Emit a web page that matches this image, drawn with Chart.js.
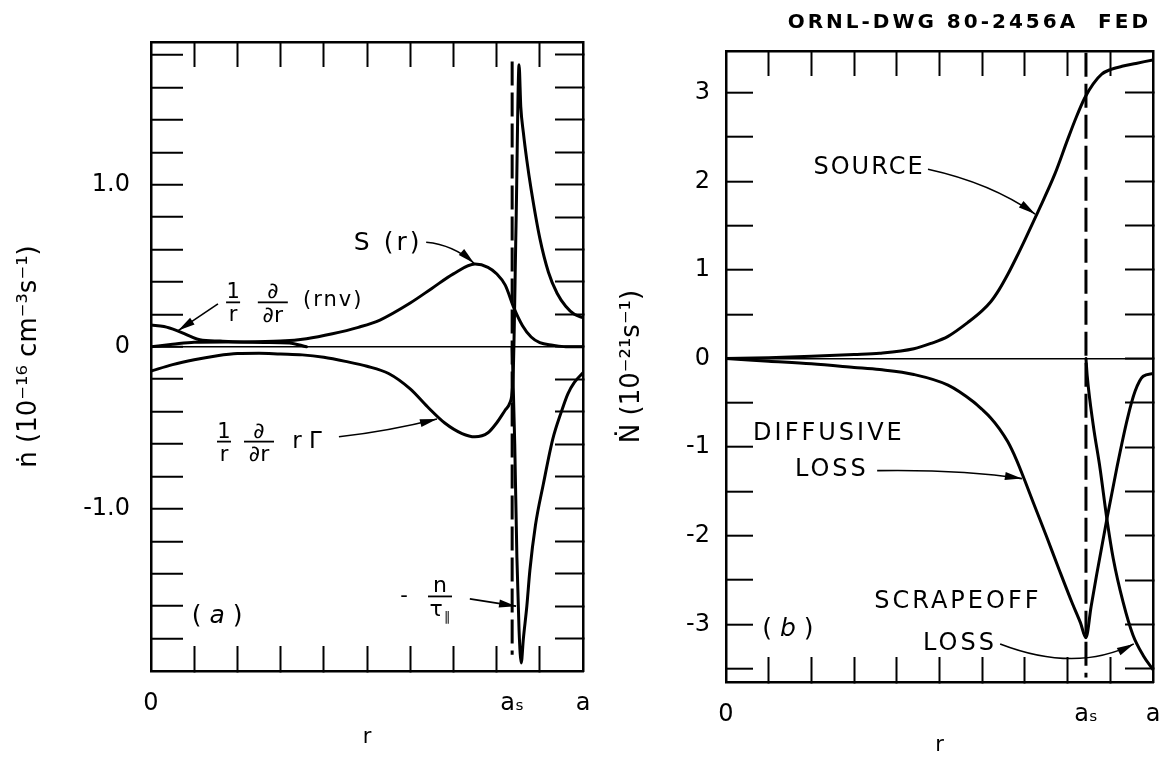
<!DOCTYPE html>
<html lang="en">
<head>
<meta charset="UTF-8" />
<title>ORNL-DWG 80-2456A FED</title>
<script src="https://cdn.jsdelivr.net/npm/chart.js"></script>
<style>
  body { margin: 0; background: #fff; }
  #wrap { position: relative; width: 1163px; height: 758px; overflow: hidden; background: #fff; }
  canvas { position: absolute; top: 0; }
  #chartA { left: 0; }
  #chartB { left: 600px; }
  #dwg { position: absolute; right: 12px; top: 9px; font: bold 20px "DejaVu Sans"; letter-spacing: 3px; color: #000; }
</style>
</head>
<body>
<div id="wrap">
  <canvas id="chartA" width="600" height="758"></canvas>
  <canvas id="chartB" width="563" height="758"></canvas>
  <div id="dwg">ORNL-DWG 80-2456A&nbsp; FED</div>
</div>

<script>
// r is in units of a; a_s is the separatrix
const aSa = 0.836;
const aSb = 0.843;

// tick positions and labels
const xTickVals = [0.1, 0.2, 0.3, 0.4, 0.5, 0.6, 0.7, 0.8, 0.9];
const xLabelText = ['0', 'aₛ', 'a'];
const yTicksA = [-1.8, -1.6, -1.4, -1.2, -1.0, -0.8, -0.6, -0.4, -0.2, 0, 0.2, 0.4, 0.6, 0.8, 1.0, 1.2, 1.4, 1.6, 1.8];
const yLabelValsA = [1.0, 0, -1.0];
const yLabelTextA = ['1.0', '0', '-1.0'];
const yTicksB = [-3.5, -3, -2.5, -2, -1.5, -1, -0.5, 0, 0.5, 1, 1.5, 2, 2.5, 3];
const yLabelValsB = [3, 2, 1, 0, -1, -2, -3];
const yLabelTextB = ['3', '2', '1', '0', '-1', '-2', '-3'];

// (a) S(r)
const srcAX = [0, 0.05, 0.1, 0.2, 0.3, 0.36, 0.42, 0.48, 0.53, 0.6, 0.65, 0.7, 0.75, 0.78, 0.8, 0.82, 0.84, 0.86, 0.88, 0.9, 0.93, 0.96, 1.0];
const srcAY = [0, 0.015, 0.028, 0.03, 0.035, 0.05, 0.08, 0.12, 0.165, 0.27, 0.36, 0.45, 0.51, 0.49, 0.45, 0.38, 0.24, 0.13, 0.06, 0.025, 0.01, 0, 0];
// (a) 1/r d/dr (rnv)
const rnvX = [0, 0.03, 0.06, 0.09, 0.113, 0.16, 0.206, 0.26, 0.32, 0.36];
const rnvY = [0.134, 0.125, 0.1, 0.066, 0.043, 0.035, 0.03, 0.027, 0.024, 0];
// (a) 1/r d/dr (r Gamma)
const divX = [0, 0.05, 0.1, 0.15, 0.2, 0.25, 0.3, 0.35, 0.4, 0.45, 0.5, 0.55, 0.6, 0.64, 0.68, 0.72, 0.75, 0.78, 0.8, 0.82, 0.83, 0.838, 0.845, 0.852, 0.856, 0.862, 0.87, 0.88, 0.9, 0.92, 0.94, 0.96, 0.98, 1.0];
const divY = [-0.15, -0.11, -0.08, -0.057, -0.042, -0.04, -0.045, -0.05, -0.065, -0.09, -0.12, -0.165, -0.26, -0.37, -0.47, -0.535, -0.555, -0.53, -0.47, -0.39, -0.35, -0.2, 0.75, 1.74, 1.48, 1.32, 1.15, 0.97, 0.67, 0.46, 0.33, 0.25, 0.2, 0.18];
// (a) -n/tau_par
const parX = [0.836, 0.842, 0.847, 0.852, 0.857, 0.862, 0.87, 0.877, 0.89, 0.908, 0.93, 0.95, 0.965, 0.98, 1.0];
const parY = [0, -0.6, -1.3, -1.75, -1.95, -1.8, -1.6, -1.38, -1.1, -0.85, -0.57, -0.4, -0.29, -0.22, -0.16];

// (b) source
const srcBX = [0, 0.1, 0.2, 0.3, 0.36, 0.44, 0.48, 0.52, 0.57, 0.6, 0.62, 0.64, 0.66, 0.68, 0.7, 0.73, 0.77, 0.8, 0.82, 0.84, 0.86, 0.88, 0.9, 0.93, 0.96, 1.0];
const srcBY = [0, 0.01, 0.025, 0.045, 0.06, 0.11, 0.17, 0.25, 0.42, 0.54, 0.64, 0.78, 0.95, 1.14, 1.34, 1.65, 2.08, 2.47, 2.72, 2.94, 3.1, 3.21, 3.26, 3.3, 3.33, 3.37];
// (b) diffusive loss
const difBX = [0, 0.1, 0.2, 0.3, 0.36, 0.44, 0.52, 0.58, 0.6, 0.62, 0.64, 0.66, 0.68, 0.7, 0.72, 0.75, 0.78, 0.81, 0.83, 0.843, 0.855, 0.868, 0.892, 0.915, 0.94, 0.958, 0.977, 1.0];
const difBY = [0, -0.03, -0.06, -0.1, -0.125, -0.18, -0.3, -0.49, -0.575, -0.67, -0.79, -0.94, -1.14, -1.38, -1.63, -2.0, -2.38, -2.75, -2.98, -3.15, -2.8, -2.44, -1.81, -1.24, -0.68, -0.37, -0.2, -0.17];
// (b) scrapeoff loss
const scrBX = [0.843, 0.846, 0.86, 0.876, 0.892, 0.907, 0.93, 0.953, 0.977, 1.0];
const scrBY = [0, -0.2, -0.75, -1.24, -1.81, -2.26, -2.75, -3.12, -3.35, -3.51];

function pts(xs, ys) {
  return xs.map((x, i) => ({ x: x, y: ys[i] }));
}

// text, fractions and arrows placed in data coordinates
const notesPlugin = {
  id: 'notes',
  afterDatasetsDraw(chart, args, opts) {
    const ctx = chart.ctx;
    const X = v => chart.scales.x.getPixelForValue(v);
    const Y = v => chart.scales.y.getPixelForValue(v);
    const fam = '"DejaVu Sans", sans-serif';
    ctx.save();
    ctx.fillStyle = '#000';
    ctx.strokeStyle = '#000';
    for (const n of opts.items) {
      const size = n.size || 22;
      ctx.font = size + 'px ' + fam;
      ctx.letterSpacing = (n.sp || 0) + 'px';
      ctx.textBaseline = 'middle';
      const x = X(n.x), y = Y(n.y);
      if (n.text !== undefined) {
        ctx.textAlign = n.align || 'center';
        ctx.fillText(n.text, x, y);
      } else if (n.runs) {
        let w = 0;
        n.runs.forEach(r => {
          ctx.font = (r[1] ? r[1] + ' ' : '') + size + 'px ' + fam;
          w += ctx.measureText(r[0]).width;
        });
        let cx = x - w / 2;
        ctx.textAlign = 'left';
        n.runs.forEach(r => {
          ctx.font = (r[1] ? r[1] + ' ' : '') + size + 'px ' + fam;
          ctx.fillText(r[0], cx, y);
          cx += ctx.measureText(r[0]).width;
        });
      } else if (n.num !== undefined) {
        ctx.lineWidth = 1.8;
        ctx.beginPath();
        ctx.moveTo(x - n.w / 2, y);
        ctx.lineTo(x + n.w / 2, y);
        ctx.stroke();
        ctx.textAlign = 'center';
        ctx.textBaseline = 'alphabetic';
        ctx.fillText(n.num, x, y - 4);
        ctx.textBaseline = 'top';
        ctx.fillText(n.den, x - (n.sub ? 4 : 0), y + 3);
        if (n.sub) {
          const dw = ctx.measureText(n.den).width;
          ctx.font = Math.round(size * 0.6) + 'px ' + fam;
          ctx.textAlign = 'left';
          ctx.fillText(n.sub, x - 4 + dw / 2 + 1, y + 3 + size * 0.55);
        }
      } else if (n.to) {
        const x2 = X(n.to[0]), y2 = Y(n.to[1]);
        const cx = n.via ? X(n.via[0]) : (x + x2) / 2;
        const cy = n.via ? Y(n.via[1]) : (y + y2) / 2;
        ctx.lineWidth = 1.6;
        ctx.beginPath();
        ctx.moveTo(x, y);
        ctx.quadraticCurveTo(cx, cy, x2, y2);
        ctx.stroke();
        const ang = Math.atan2(y2 - cy, x2 - cx);
        const L = 17, W = 4;
        ctx.beginPath();
        ctx.moveTo(x2, y2);
        ctx.lineTo(x2 - L * Math.cos(ang) + W * Math.sin(ang), y2 - L * Math.sin(ang) - W * Math.cos(ang));
        ctx.lineTo(x2 - L * Math.cos(ang) - W * Math.sin(ang), y2 - L * Math.sin(ang) + W * Math.cos(ang));
        ctx.closePath();
        ctx.fill();
      }
    }
    ctx.restore();
  }
};

const notesA = [
  { x: 0.549, y: 0.64, text: 'S (r)', size: 25, sp: 3 },
  { x: 0.637, y: 0.645, to: [0.748, 0.515], via: [0.70, 0.63] },
  { x: 0.19, y: 0.274, num: '1', den: 'r', w: 14, size: 21 },
  { x: 0.282, y: 0.274, num: '∂', den: '∂r', w: 30, size: 22 },
  { x: 0.352, y: 0.285, text: '(rnv)', align: 'left', size: 21, sp: 2 },
  { x: 0.155, y: 0.265, to: [0.063, 0.10] },
  { x: 0.169, y: -0.585, num: '1', den: 'r', w: 14, size: 21 },
  { x: 0.25, y: -0.585, num: '∂', den: '∂r', w: 30, size: 22 },
  { x: 0.327, y: -0.585, text: 'r Γ', align: 'left', size: 23 },
  { x: 0.435, y: -0.555, to: [0.662, -0.445], via: [0.55, -0.52] },
  { x: 0.586, y: -1.54, text: '-', size: 21 },
  { x: 0.669, y: -1.54, num: 'n', den: 'τ', sub: '∥', w: 24, size: 22 },
  { x: 0.738, y: -1.555, to: [0.845, -1.6] },
  { x: 0.153, y: -1.665, runs: [['( ', ''], ['a', 'italic'], [' )', '']], size: 25 }
];

const notesB = [
  { x: 0.335, y: 2.15, text: 'SOURCE', size: 24, sp: 2 },
  { x: 0.473, y: 2.135, to: [0.724, 1.63], via: [0.62, 1.98] },
  { x: 0.241, y: -0.85, text: 'DIFFUSIVE', size: 24, sp: 3 },
  { x: 0.248, y: -1.25, text: 'LOSS', size: 24, sp: 3 },
  { x: 0.354, y: -1.265, to: [0.693, -1.355], via: [0.55, -1.25] },
  { x: 0.543, y: -2.75, text: 'SCRAPEOFF', size: 24, sp: 3 },
  { x: 0.548, y: -3.22, text: 'LOSS', size: 24, sp: 3 },
  { x: 0.642, y: -3.22, to: [0.955, -3.22], via: [0.82, -3.55] },
  { x: 0.145, y: -3.06, runs: [['( ', ''], ['b', 'italic'], [' )', '']], size: 25 }
];

Chart.defaults.font.family = '"DejaVu Sans", sans-serif';
Chart.defaults.color = '#000';

function noPad(s) {
  s.paddingLeft = 0;
  s.paddingRight = 0;
  s.paddingTop = 0;
  s.paddingBottom = 0;
}

function makeChart(id, p) {
  const bottomTicks = [0].concat(xTickVals, [p.aS, 1]);
  const xLabel = v => (v === 0 ? xLabelText[0] : v === p.aS ? xLabelText[1] : v === 1 ? xLabelText[2] : '');
  const yLabel = v => {
    const i = p.yLabelVals.indexOf(v);
    return i < 0 ? '' : p.yLabelText[i];
  };
  const edge = { display: true, color: '#000', width: 2.5 };
  const curve = (data) => ({
    data: data, borderColor: '#000', borderWidth: 3, pointRadius: 0, fill: false,
    cubicInterpolationMode: 'monotone', borderCapStyle: 'round', borderJoinStyle: 'round',
    xAxisID: 'x', yAxisID: 'y'
  });
  const datasets = p.series.map(s => curve(pts(s[0], s[1])));
  datasets.push({
    data: [{ x: p.aS, y: p.dash[0] }, { x: p.aS, y: p.dash[1] }],
    borderColor: '#000', borderWidth: 3, borderDash: [24, 7], pointRadius: 0, tension: 0,
    xAxisID: 'x', yAxisID: 'y'
  });

  return new Chart(document.getElementById(id), {
    type: 'line',
    data: { datasets: datasets },
    plugins: [notesPlugin],
    options: {
      responsive: false,
      animation: false,
      layout: { padding: 0 },
      plugins: { legend: { display: false }, tooltip: { enabled: false }, notes: { items: p.notes } },
      scales: {
        x: {
          type: 'linear', position: 'bottom', min: 0, max: 1,
          afterBuildTicks: s => { s.ticks = bottomTicks.map(v => ({ value: v })); },
          afterFit: s => { s.height = p.bottomH; noPad(s); },
          ticks: { autoSkip: false, maxRotation: 0, padding: 43, font: { size: 24 }, color: '#000', callback: v => xLabel(v) },
          grid: {
            drawOnChartArea: false, tickLength: -25, tickWidth: 2,
            tickColor: c => (xTickVals.includes(c.tick.value) ? '#000' : 'rgba(0,0,0,0)')
          },
          border: edge,
          title: { display: true, text: 'r', font: { size: 21 }, color: '#000', padding: { top: 0, bottom: p.xTitlePad } }
        },
        x2: {
          type: 'linear', position: 'top', min: 0, max: 1,
          afterBuildTicks: s => { s.ticks = xTickVals.map(v => ({ value: v })); },
          afterFit: s => { s.height = p.topH; noPad(s); },
          ticks: { display: false },
          grid: { drawOnChartArea: false, tickLength: -25, tickWidth: 2, tickColor: '#000' },
          border: edge
        },
        y: {
          type: 'linear', position: 'left', min: p.min, max: p.max,
          afterBuildTicks: s => { s.ticks = p.yTicks.map(v => ({ value: v })); },
          afterFit: s => { s.width = p.leftW; noPad(s); },
          ticks: { autoSkip: false, padding: p.yPad, font: { size: 24 }, color: '#000', callback: v => yLabel(v) },
          grid: {
            color: c => (c.tick && c.tick.value === 0 ? '#000' : 'rgba(0,0,0,0)'),
            lineWidth: 1.4, tickLength: -p.yTickLen, tickWidth: 2, tickColor: '#000'
          },
          border: edge,
          title: { display: true, text: p.yTitle, font: { size: 26 }, color: '#000', padding: { top: p.yTitlePad, bottom: 0 } }
        },
        y2: {
          type: 'linear', position: 'right', min: p.min, max: p.max,
          afterBuildTicks: s => { s.ticks = p.yTicks.map(v => ({ value: v })); },
          afterFit: s => { s.width = p.rightW; noPad(s); },
          ticks: { display: false },
          grid: { drawOnChartArea: false, tickLength: -28, tickWidth: 2, tickColor: '#000' },
          border: edge
        }
      }
    }
  });
}

makeChart('chartA', {
  aS: aSa, min: -2.0, max: 1.88,
  yTicks: yTicksA, yLabelVals: yLabelValsA, yLabelText: yLabelTextA,
  yTitle: 'ṅ (10⁻¹⁶ cm⁻³s⁻¹)',
  leftW: 151, rightW: 17, topH: 42, bottomH: 87,
  yPad: 53, yTickLen: 32, yTitlePad: 14, xTitlePad: 8,
  dash: [1.76, -1.9],
  series: [[srcAX, srcAY], [rnvX, rnvY], [divX, divY], [parX, parY]],
  notes: notesA
});

makeChart('chartB', {
  aS: aSb, min: -3.65, max: 3.47,
  yTicks: yTicksB, yLabelVals: yLabelValsB, yLabelText: yLabelTextB,
  yTitle: 'Ṅ (10⁻²¹s⁻¹)',
  leftW: 126, rightW: 10, topH: 51, bottomH: 76,
  yPad: 43, yTickLen: 27, yTitlePad: 17, xTitlePad: 0,
  dash: [3.45, -3.6],
  series: [[srcBX, srcBY], [difBX, difBY], [scrBX, scrBY]],
  notes: notesB
});
</script>
</body>
</html>
